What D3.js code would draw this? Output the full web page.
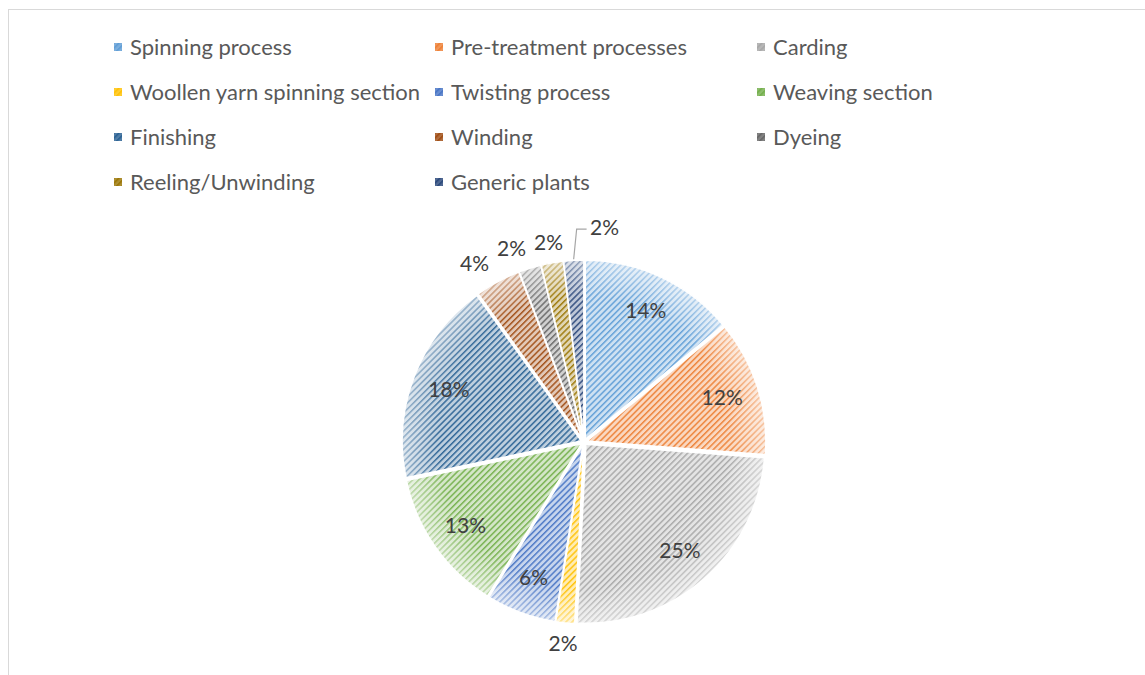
<!DOCTYPE html>
<html>
<head>
<meta charset="utf-8">
<script src="https://cdn.jsdelivr.net/npm/d3@7"></script>
<style>
  html, body { margin: 0; padding: 0; background: #fff; }
  svg { display: block; }
</style>
</head>
<body>
<svg id="chart" width="1145" height="675"></svg>
<script>
const categories = ["Spinning process", "Pre-treatment processes", "Carding",
  "Woollen yarn spinning section", "Twisting process", "Weaving section",
  "Finishing", "Winding", "Dyeing", "Reeling/Unwinding", "Generic plants"];
const values = [14.0, 12.2, 24.6, 1.7, 6.3, 12.9, 18.4, 4.1, 2.0, 2.0, 1.8];
const colors = ["#5B9BD5", "#ED7D31", "#A5A5A5", "#FFC000", "#4472C4", "#70AD47",
  "#255E91", "#9E480E", "#636363", "#997300", "#264478"];

(function () {
const W = 1145, H = 675;
const svg = d3.select("#chart");
const FONT = "Lato, 'Open Sans', sans-serif";

// chart border
svg.append("rect").attr("x", 8.5).attr("y", 9.5).attr("width", W).attr("height", H)
  .attr("fill", "none").attr("stroke", "#d9d9d9").attr("stroke-width", 1);

const defs = svg.append("defs");
colors.forEach((c, i) => {
  const tint = d3.interpolateRgb(c, "#ffffff")(0.7);
  const p = defs.append("pattern").attr("id", "pat" + i)
    .attr("patternUnits", "userSpaceOnUse").attr("width", 4.3).attr("height", 4.3)
    .attr("patternTransform", "rotate(45)");
  p.append("rect").attr("width", 4.3).attr("height", 4.3).attr("fill", tint);
  p.append("rect").attr("x", 0).attr("width", 1.5).attr("height", 4.3).attr("fill", c).attr("opacity", 0.9);
  const lp = defs.append("pattern").attr("id", "lpat" + i)
    .attr("patternUnits", "userSpaceOnUse").attr("width", 4).attr("height", 4)
    .attr("patternTransform", "rotate(45)");
  lp.append("rect").attr("width", 4).attr("height", 4).attr("fill", d3.interpolateRgb(c, "#ffffff")(0.2));
  lp.append("rect").attr("width", 1.5).attr("height", 4).attr("fill", c);
});
const rg = defs.append("radialGradient").attr("id", "soft")
  .attr("gradientUnits", "userSpaceOnUse").attr("cx", 0).attr("cy", 0).attr("r", 179);
rg.append("stop").attr("offset", "0.8").attr("stop-color", "#fff").attr("stop-opacity", 0);
rg.append("stop").attr("offset", "1").attr("stop-color", "#fff").attr("stop-opacity", 0.5);

// legend
const legendCols = [114, 435, 757];
const legendRows = [47, 92, 137, 182];
const lg = svg.append("g");
categories.forEach((name, i) => {
  const col = i % 3, row = Math.floor(i / 3);
  const g = lg.append("g").attr("transform", `translate(${legendCols[col]},${legendRows[row]})`);
  g.append("rect").attr("x", 0).attr("y", -4).attr("width", 8).attr("height", 8)
    .attr("fill", `url(#lpat${i})`);
  g.append("text").attr("x", 16).attr("y", 0).attr("dy", "0.35em")
    .attr("font-family", FONT).attr("font-size", 22).attr("fill", "#595959")
    .text(name);
});

// pie
const cx = 584, cy = 442, R = 179, explode = 3;
const total = d3.sum(values);
const pie = d3.pie().sort(null).value(d => d)(values);
const arc = d3.arc().innerRadius(0).outerRadius(R);
const pg = svg.append("g").attr("transform", `translate(${cx},${cy})`);

pie.forEach((d, i) => {
  const mid = (d.startAngle + d.endAngle) / 2;
  const ox = Math.sin(mid) * explode, oy = -Math.cos(mid) * explode;
  const g = pg.append("g").attr("transform", `translate(${ox},${oy})`);
  g.append("path").attr("d", arc(d)).attr("fill", `url(#pat${i})`)
    .attr("stroke", "#fff").attr("stroke-width", 1.5);
  g.append("path").attr("d", arc(d)).attr("fill", "url(#soft)");
});

// labels
const labels = pie.map((d, i) => {
  const mid = (d.startAngle + d.endAngle) / 2;
  const pct = Math.round(d.value / total * 100);
  const outside = d.value / total < 0.05;
  const rr = outside ? R * 1.13 : R * 0.81;
  return { i, mid, text: pct + "%", outside,
    x: Math.sin(mid) * rr, y: -Math.cos(mid) * rr };
});
// resolve overlaps among outside labels near the top
const topLabels = labels.filter(l => l.outside && l.y < 0).sort((a, b) => a.x - b.x);
const last = topLabels[topLabels.length - 1];
const prev = topLabels[topLabels.length - 2];
if (last && prev && last.x - prev.x < 40) {
  last.x = prev.x + 56; last.y -= 12; last.leader = true;
}
for (let k = topLabels.length - 3; k >= 0; k--) {
  if (topLabels[k + 1].x - topLabels[k].x < 37) topLabels[k].x = topLabels[k + 1].x - 37;
}
labels.forEach(l => {
  if (l.leader) {
    const ex = Math.sin(l.mid) * (R + explode + 1), ey = -Math.cos(l.mid) * (R + explode + 1);
    pg.append("path")
      .attr("d", `M${ex},${ey} L${ex + 3},${l.y + 1} L${l.x - 18},${l.y + 1}`)
      .attr("fill", "none").attr("stroke", "#a6a6a6").attr("stroke-width", 1.2);
  }
  pg.append("text").attr("x", l.x).attr("y", l.y).attr("dy", "0.35em")
    .attr("text-anchor", "middle").attr("font-family", FONT).attr("font-size", 21)
    .attr("fill", "#404040").text(l.text);
});
})();
</script>
</body>
</html>
